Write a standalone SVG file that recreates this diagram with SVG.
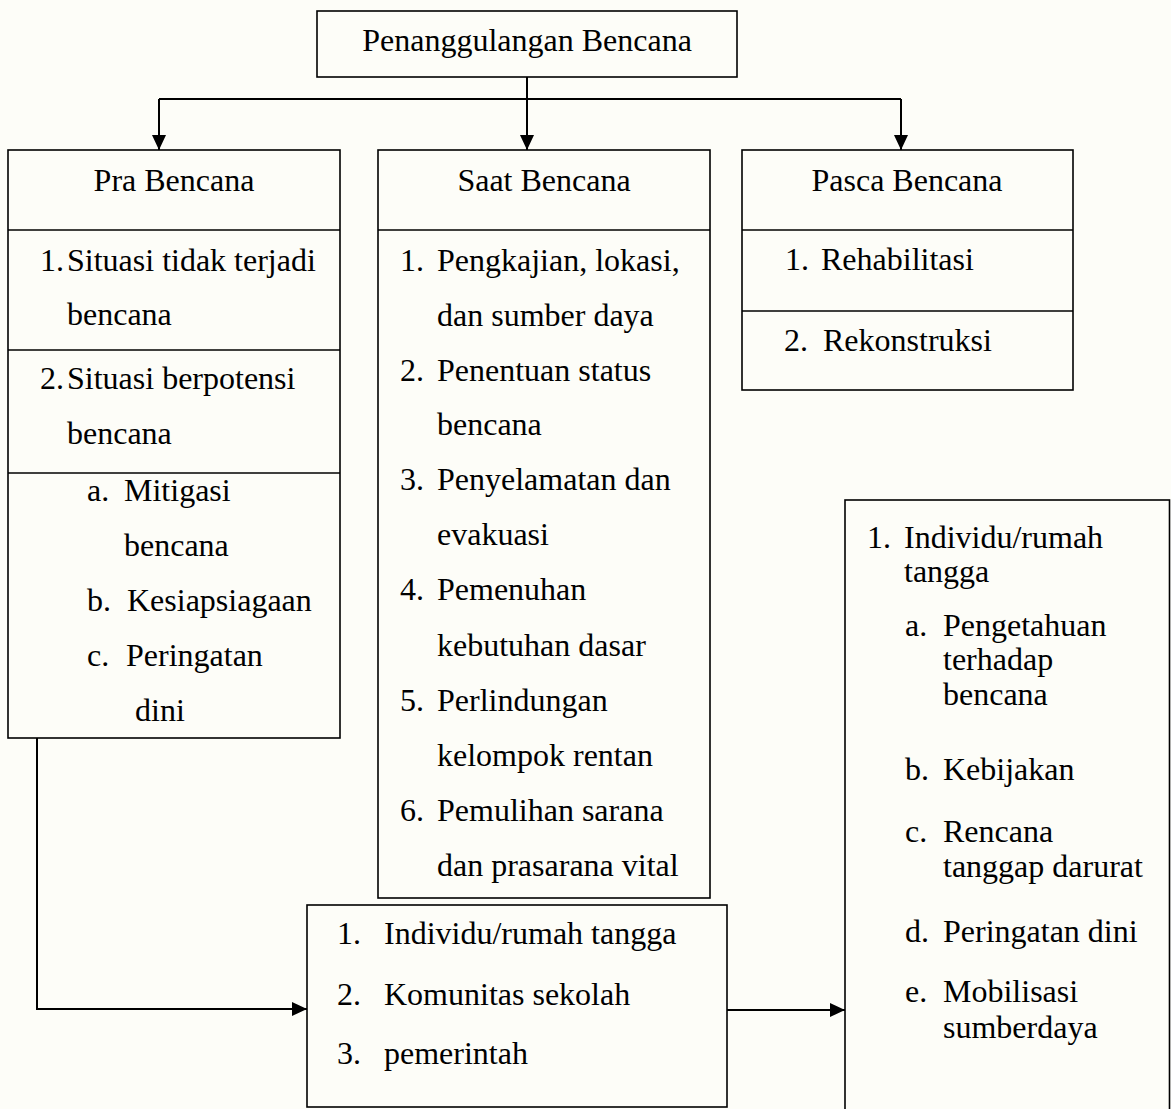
<svg xmlns="http://www.w3.org/2000/svg" width="1171" height="1109" viewBox="0 0 1171 1109">
<style>
.box{fill:none;stroke:#000;stroke-width:1.6}
.t{font-family:"Liberation Serif","Times New Roman",serif;font-size:32px;fill:#000}
.c{text-anchor:middle}
.conn{fill:none;stroke:#000;stroke-width:2}
</style>
<defs>
<marker id="ah" markerWidth="16" markerHeight="14" refX="15" refY="7" orient="auto" markerUnits="userSpaceOnUse"><path d="M0,0 L15,7 L0,14 Z" fill="#000"/></marker>
</defs>
<rect width="1171" height="1109" fill="#fdfdf8"/>
<g id="connectors">
<path class="conn" d="M527,77 V150" marker-end="url(#ah)"/>
<path class="conn" d="M159,99 H901"/>
<path class="conn" d="M159,99 V150" marker-end="url(#ah)"/>
<path class="conn" d="M901,99 V150" marker-end="url(#ah)"/>
<path class="conn" d="M37,738 V1009 H307" marker-end="url(#ah)"/>
<path class="conn" d="M727,1010 H845" marker-end="url(#ah)"/>
</g>
<g id="top">
<rect class="box" x="317" y="11" width="420" height="66"/>
<text class="t c" x="527" y="51">Penanggulangan Bencana</text>
</g>
<g id="pra">
<rect class="box" x="8" y="150" width="332" height="588"/>
<line class="box" x1="8" y1="230" x2="340" y2="230"/>
<line class="box" x1="8" y1="350" x2="340" y2="350"/>
<line class="box" x1="8" y1="473" x2="340" y2="473"/>
<text class="t c" x="174" y="191">Pra Bencana</text>
<text class="t" x="40" y="271">1.</text><text class="t" x="67" y="271">Situasi tidak terjadi</text>
<text class="t" x="67" y="325">bencana</text>
<text class="t" x="40" y="389">2.</text><text class="t" x="67" y="389">Situasi berpotensi</text>
<text class="t" x="67" y="444">bencana</text>
<text class="t" x="87" y="501">a.</text><text class="t" x="124" y="501">Mitigasi</text>
<text class="t" x="124" y="556">bencana</text>
<text class="t" x="87" y="611">b.</text><text class="t" x="127" y="611">Kesiapsiagaan</text>
<text class="t" x="87" y="666">c.</text><text class="t" x="126" y="666">Peringatan</text>
<text class="t" x="135" y="721">dini</text>
</g>
<g id="saat">
<rect class="box" x="378" y="150" width="332" height="748"/>
<line class="box" x1="378" y1="230" x2="710" y2="230"/>
<text class="t c" x="544" y="191">Saat Bencana</text>
<text class="t" x="400" y="271">1.</text><text class="t" x="437" y="271">Pengkajian, lokasi,</text>
<text class="t" x="437" y="326">dan sumber daya</text>
<text class="t" x="400" y="381">2.</text><text class="t" x="437" y="381">Penentuan status</text>
<text class="t" x="437" y="435">bencana</text>
<text class="t" x="400" y="490">3.</text><text class="t" x="437" y="490">Penyelamatan dan</text>
<text class="t" x="437" y="545">evakuasi</text>
<text class="t" x="400" y="600">4.</text><text class="t" x="437" y="600">Pemenuhan</text>
<text class="t" x="437" y="656">kebutuhan dasar</text>
<text class="t" x="400" y="711">5.</text><text class="t" x="437" y="711">Perlindungan</text>
<text class="t" x="437" y="766">kelompok rentan</text>
<text class="t" x="400" y="821">6.</text><text class="t" x="437" y="821">Pemulihan sarana</text>
<text class="t" x="437" y="876">dan prasarana vital</text>
</g>
<g id="pasca">
<rect class="box" x="742" y="150" width="331" height="240"/>
<line class="box" x1="742" y1="230" x2="1073" y2="230"/>
<line class="box" x1="742" y1="311" x2="1073" y2="311"/>
<text class="t c" x="907" y="191">Pasca Bencana</text>
<text class="t" x="785" y="270">1.</text><text class="t" x="821" y="270">Rehabilitasi</text>
<text class="t" x="784" y="351">2.</text><text class="t" x="823" y="351">Rekonstruksi</text>
</g>
<g id="target-groups">
<rect class="box" x="307" y="905" width="420" height="202"/>
<text class="t" x="337" y="944">1.</text><text class="t" x="384" y="944">Individu/rumah tangga</text>
<text class="t" x="337" y="1005">2.</text><text class="t" x="384" y="1005">Komunitas sekolah</text>
<text class="t" x="337" y="1064">3.</text><text class="t" x="384" y="1064">pemerintah</text>
</g>
<g id="aspects">
<rect class="box" x="845" y="500" width="324.5" height="640"/>
<text class="t" x="867" y="548">1.</text><text class="t" x="904" y="548">Individu/rumah</text>
<text class="t" x="904" y="582">tangga</text>
<text class="t" x="905" y="636">a.</text><text class="t" x="943" y="636">Pengetahuan</text>
<text class="t" x="943" y="670">terhadap</text>
<text class="t" x="943" y="705">bencana</text>
<text class="t" x="905" y="780">b.</text><text class="t" x="943" y="780">Kebijakan</text>
<text class="t" x="905" y="842">c.</text><text class="t" x="943" y="842">Rencana</text>
<text class="t" x="943" y="877">tanggap darurat</text>
<text class="t" x="905" y="942">d.</text><text class="t" x="943" y="942">Peringatan dini</text>
<text class="t" x="905" y="1002">e.</text><text class="t" x="943" y="1002">Mobilisasi</text>
<text class="t" x="943" y="1038">sumberdaya</text>
</g>
</svg>
